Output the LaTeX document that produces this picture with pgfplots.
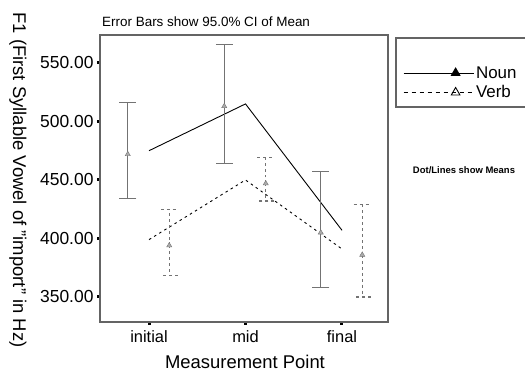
\documentclass[border=0pt]{standalone}
\usepackage{fontspec}
\setmainfont{Liberation Sans}
\usepackage{pgfplots}
\pgfplotsset{compat=1.18}
\definecolor{errgray}{RGB}{115,115,115}
\definecolor{framegray}{RGB}{100,100,100}
\begin{document}
\begin{tikzpicture}
\useasboundingbox (0bp,0bp) rectangle (525bp,374bp);
\begin{axis}[
  at={(100bp,52bp)}, anchor=south west,
  width=288bp, height=287bp, scale only axis,
  xmin=0.492, xmax=3.477, ymin=328.6, ymax=573.9,
  xtick={1,2,3}, xticklabels={initial,mid,final},
  ytick={350,400,450,500,550},
  xtick pos=left, ytick pos=left, tick align=outside,
  major tick length=3bp,
  tick style={black, line width=3bp},
  axis line style={framegray, line width=1.3bp},
  xticklabel style={font=\fontsize{16.5}{18}\selectfont, yshift=-2bp},
  yticklabel style={font=\fontsize{17.5}{19}\selectfont, /pgf/number format/.cd, fixed, fixed zerofill, precision=2, assume math mode=true},
  legend style={draw=none, fill=none, at={(1.052,0.898)}, anchor=north west,
     font=\fontsize{17}{19}\selectfont, row sep=2bp, inner sep=0pt},
  legend cell align=left,
  legend image code/.code={\draw[mark repeat=2, mark phase=2, #1] plot coordinates {(0bp,0bp) (52bp,0bp) (70bp,0bp)};},
]
\addlegendimage{black, line width=0.9bp, mark=triangle*, mark size=5bp}
\addlegendentry{Noun}
\addlegendimage{black, line width=0.9bp, dash pattern=on 4bp off 4bp, mark=triangle, mark size=5bp, mark options={solid}}
\addlegendentry{Verb}
% Noun mean line
\addplot[black, line width=0.9bp, mark=none, forget plot] coordinates {(1,475) (2,515) (3,407)};
% Verb mean line
\addplot[black, line width=0.9bp, dash pattern=on 2.5bp off 3.5bp, mark=none, forget plot] coordinates {(1,399) (2,450) (3,391)};
% Noun error bars
\addplot[only marks, mark=triangle*, mark size=3bp, errgray, mark options={fill=errgray!60}, forget plot,
  error bars/.cd, y dir=both, y explicit,
  error bar style={errgray, line width=1.1bp},
  error mark options={rotate=90, mark size=8.5bp, errgray, line width=1.1bp}]
  coordinates {(0.78,472) += (0,44) -= (0,38)
               (1.78,513) += (0,53) -= (0,49)
               (2.78,405) += (0,52) -= (0,47)};
% Verb error bars
\addplot[only marks, mark=triangle*, mark size=3bp, errgray, mark options={fill=errgray!60}, forget plot,
  error bars/.cd, y dir=both, y explicit,
  error bar style={errgray, line width=1.1bp, dashed},
  error mark options={rotate=90, mark size=8.5bp, errgray, line width=1.1bp, dashed}]
  coordinates {(1.21,394) += (0,31) -= (0,26)
               (2.21,447) += (0,22) -= (0,15)
               (3.21,386) += (0,43) -= (0,36)};
\end{axis}
% title
\node[anchor=base west, inner sep=0pt, font=\fontsize{13.5}{15}\selectfont] at (102bp,347bp) {Error Bars show 95.0\% CI of Mean};
% y label
\node[rotate=-90, inner sep=0pt, font=\fontsize{18.5}{20}\selectfont] at (18bp,194bp) {F1 (First Syllable Vowel of "import" in Hz)};
% x label
\node[anchor=base, inner sep=0pt, font=\fontsize{18.5}{20}\selectfont] at (245bp,6bp) {Measurement Point};
% legend frame
\draw[framegray, line width=1.3bp] (396bp,336bp) rectangle (535bp,267bp);
% note
\node[inner sep=0pt, font=\fontsize{9.5}{11}\selectfont\bfseries] at (464bp,204bp) {Dot/Lines show Means};
\end{tikzpicture}
\end{document}
